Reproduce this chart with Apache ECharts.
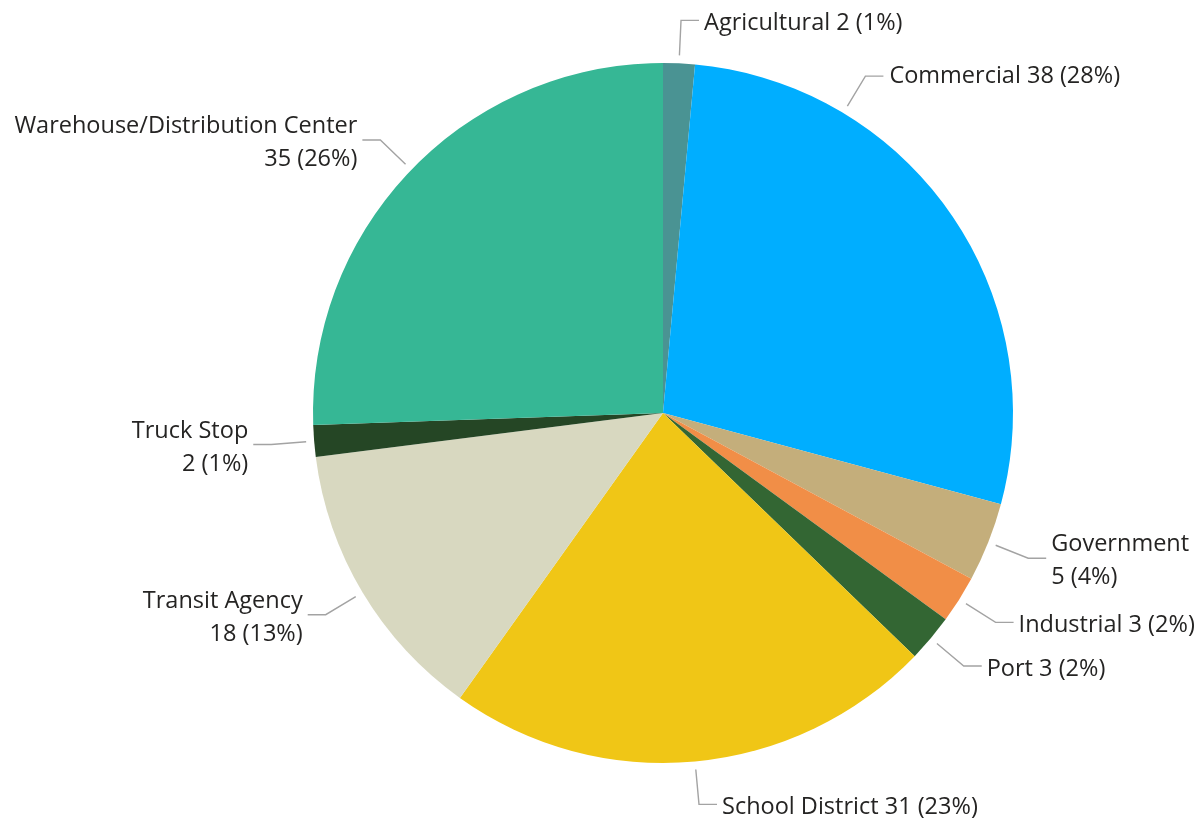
<!DOCTYPE html>
<html>
<head>
<meta charset="utf-8">
<script src="https://cdn.jsdelivr.net/npm/echarts@6/dist/echarts.min.js"></script>
<style>
  html, body { margin: 0; padding: 0; background: #ffffff; }
  #chart { width: 1201px; height: 825px; }
</style>
</head>
<body>
<div id="chart"></div>
<script>
// Site counts by category, listed clockwise from 12 o'clock
const categories = ['Agricultural', 'Commercial', 'Government', 'Industrial', 'Port',
  'School District', 'Transit Agency', 'Truck Stop', 'Warehouse/Distribution Center'];
const counts = [2, 38, 5, 3, 3, 31, 18, 2, 35];
const colors = ['#4A9393', '#00AEFF', '#C4AE7B', '#F18E47', '#336633',
  '#F0C616', '#D8D8C0', '#254625', '#36B795'];
// Categories whose label puts the value on a second line
const twoLineLabels = ['Government', 'Transit Agency', 'Truck Stop', 'Warehouse/Distribution Center'];

const total = counts.reduce((a, b) => a + b, 0);
const data = categories.map((name, i) => ({
  name: name,
  value: counts[i],
  itemStyle: { color: colors[i] }
}));

const CX = 663, CY = 413, R = 350;
const LINE_GAP = 8;       // leader lines start a little outside the rim
const LEN1 = 43, LEN2 = 18;
const TEXT_DROP = 3;      // nudge label text down onto the leader line
// The large Commercial wedge hangs its label higher up its arc (degrees clockwise from top)
const commercialLabelBearing = 31;

const chart = echarts.init(document.getElementById('chart'), null, { renderer: 'canvas' });
chart.setOption({
  animation: false,
  series: [{
    type: 'pie',
    center: [CX, CY],
    radius: [0, R],
    startAngle: 90,
    clockwise: true,
    avoidLabelOverlap: true,
    data: data,
    itemStyle: { borderWidth: 0 },
    label: {
      show: true,
      position: 'outside',
      fontFamily: '"Open Sans", "Noto Sans", sans-serif',
      fontSize: 23.5,
      lineHeight: 33,
      color: '#252423',
      overflow: 'none',
      formatter: function (p) {
        const pct = Math.round(p.value / total * 100);
        const sep = twoLineLabels.indexOf(p.name) >= 0 ? '\n' : ' ';
        return p.name + sep + p.value + ' (' + pct + '%)';
      }
    },
    labelLine: {
      show: true,
      length: LEN1,
      length2: LEN2,
      lineStyle: { color: '#A3A3A3', width: 1.4 }
    },
    labelLayout: function (p) {
      if (categories[p.dataIndex] === 'Commercial') {
        const a = commercialLabelBearing * Math.PI / 180;
        const sx = Math.sin(a), sy = -Math.cos(a);
        const p0 = [CX + (R + LINE_GAP) * sx, CY + (R + LINE_GAP) * sy];
        const p1 = [CX + (R + LEN1) * sx, CY + (R + LEN1) * sy];
        const p2 = [p1[0] + LEN2, p1[1]];
        return {
          x: p2[0] + 6,
          y: p2[1],
          align: 'left',
          verticalAlign: 'middle',
          labelLinePoints: [p0, p1, p2]
        };
      }
      const pts = p.labelLinePoints;
      if (!pts) return {};
      const dx = pts[1][0] - pts[0][0], dy = pts[1][1] - pts[0][1];
      const d = Math.sqrt(dx * dx + dy * dy) || 1;
      const p0 = [pts[0][0] + dx / d * LINE_GAP, pts[0][1] + dy / d * LINE_GAP];
      return {
        dy: TEXT_DROP,
        labelLinePoints: [p0, [pts[1][0], pts[1][1]], [pts[2][0], pts[2][1]]]
      };
    },
    emphasis: { disabled: true }
  }]
});
</script>
</body>
</html>
